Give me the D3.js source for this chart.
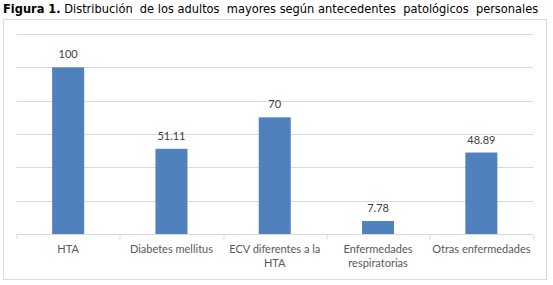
<!DOCTYPE html>
<html>
<head>
<meta charset="utf-8">
<script src="https://cdn.jsdelivr.net/npm/d3@7"></script>
<style>
  body { margin: 0; background: #fff; }
  svg { display: block; }
  .title { font-family: "DejaVu Sans Condensed", "DejaVu Sans", sans-serif; font-size: 12.7px; fill: #000; white-space: pre; }
  .cat { font-family: Lato, "Open Sans", sans-serif; font-size: 11px; fill: #595959; }
  .val { font-family: Lato, "Open Sans", sans-serif; font-size: 11px; fill: #404040; }
</style>
</head>
<body>
<div id="chart"></div>
<script>
// chart data
var categories = ["HTA", "Diabetes mellitus", "ECV diferentes a la HTA", "Enfermedades respiratorias", "Otras enfermedades"];
var values = [100, 51.11, 70, 7.78, 48.89];
var valueLabels = ["100", "51.11", "70", "7.78", "48.89"];
var yTicks = [0, 20, 40, 60, 80, 100, 120];

var W = 553, H = 285;
var margin = {top: 34, right: 20, bottom: 51, left: 16.5};

var svg = d3.select("#chart").append("svg")
    .attr("width", W)
    .attr("height", H);

// title
var title = svg.append("text")
    .attr("class", "title")
    .attr("x", 3)
    .attr("y", 13);
title.append("tspan").attr("font-weight", "bold").text("Figura 1.");
title.append("tspan").text(" Distribución  de los adultos  mayores según antecedentes  patológicos  personales");

// chart frame
svg.append("rect")
    .attr("x", 3.5).attr("y", 19.5)
    .attr("width", 543).attr("height", 260)
    .attr("fill", "#fff")
    .attr("stroke", "#D9D9D9");

var g = svg.append("g")
    .attr("transform", "translate(" + margin.left + "," + margin.top + ")");

var width = W - margin.left - margin.right,
    height = H - margin.top - margin.bottom;

var x = d3.scaleBand()
    .domain(categories)
    .range([0, width])
    .paddingInner(0.69)
    .paddingOuter(0.345);

var y = d3.scaleLinear()
    .domain([0, 120])
    .range([height, 0]);

// gridlines
g.selectAll(".grid")
    .data(yTicks.slice(1))
    .enter().append("line")
    .attr("x1", 0).attr("x2", width)
    .attr("y1", function(d) { return Math.round(y(d)) + 0.5; })
    .attr("y2", function(d) { return Math.round(y(d)) + 0.5; })
    .attr("stroke", "#D9D9D9");

// bars
g.selectAll(".bar")
    .data(values)
    .enter().append("rect")
    .attr("x", function(d, i) { return x(categories[i]); })
    .attr("y", function(d) { return y(d); })
    .attr("width", x.bandwidth())
    .attr("height", function(d) { return height - y(d); })
    .attr("fill", "#4F81BD");

// value labels
g.selectAll(".val")
    .data(values)
    .enter().append("text")
    .attr("class", "val")
    .attr("text-anchor", "middle")
    .attr("x", function(d, i) { return x(categories[i]) + x.bandwidth() / 2; })
    .attr("y", function(d) { return y(d) - 9; })
    .text(function(d, i) { return valueLabels[i]; });

// x axis
var step = x.step();
var xAxis = g.append("g")
    .attr("transform", "translate(0," + (Math.round(height) + 0.5) + ")");
xAxis.append("line")
    .attr("x1", 0).attr("x2", width)
    .attr("stroke", "#D9D9D9");
xAxis.selectAll(".tick")
    .data(d3.range(categories.length + 1))
    .enter().append("line")
    .attr("x1", function(i) { return Math.round(i * step) + 0.5; })
    .attr("x2", function(i) { return Math.round(i * step) + 0.5; })
    .attr("y1", 0).attr("y2", 5)
    .attr("stroke", "#D9D9D9");

xAxis.selectAll(".cat")
    .data(categories)
    .enter().append("text")
    .attr("class", "cat")
    .attr("text-anchor", "middle")
    .attr("x", function(d) { return x(d) + x.bandwidth() / 2; })
    .attr("y", 18)
    .text(function(d) { return d; })
    .call(wrap, step - 4);

function wrap(texts, maxW) {
  texts.each(function() {
    var text = d3.select(this),
        words = text.text().split(/\s+/),
        xPos = text.attr("x"),
        yPos = text.attr("y"),
        line = [],
        lineNo = 0,
        tspan = text.text(null).append("tspan").attr("x", xPos).attr("y", yPos);
    words.forEach(function(w) {
      line.push(w);
      tspan.text(line.join(" "));
      if (tspan.node().getComputedTextLength() > maxW && line.length > 1) {
        line.pop();
        tspan.text(line.join(" "));
        line = [w];
        lineNo++;
        tspan = text.append("tspan").attr("x", xPos).attr("y", +yPos + lineNo * 14).text(w);
      }
    });
  });
}
</script>
</body>
</html>
